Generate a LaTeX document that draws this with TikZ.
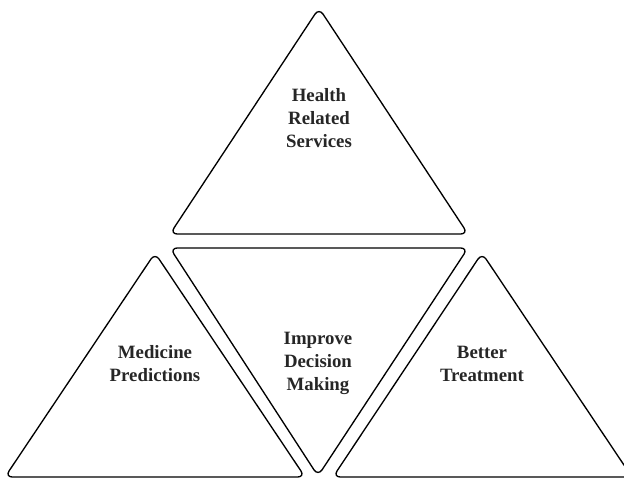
\documentclass[tikz,border=0pt]{standalone}
\usepackage{fontspec}
\setmainfont{Liberation Serif}
\begin{document}
\begin{tikzpicture}[x=0.75pt,y=-0.75pt,
  tri/.style={draw=black,line width=1pt,rounded corners=5.5pt,line join=round},
  lbl/.style={align=center,font=\fontsize{14.1}{17.3}\selectfont\bfseries,text=black!85,inner sep=0pt}]
\useasboundingbox (0,0) rectangle (624,479);
% top triangle
\draw[tri] (244.5,234) -- (170,234) -- (319,8) -- (468,234) -- cycle;
% inverted middle triangle
\draw[tri] (319,248) -- (468,248) -- (318,476) -- (170,248) -- cycle;
% bottom left triangle
\draw[tri] (155,477) -- (5,477) -- (155,253) -- (305,477) -- cycle;
% bottom right triangle
\draw[tri] (482,477) -- (333,477) -- (482,253) -- (632,477) -- cycle;
\node[lbl] (health) at (319,118) {Health\\Related\\Services};
\node[lbl] (improve) at (318,363) {Improve\\Decision\\Making};
\node[lbl] (medicine) at (155,364) {Medicine\\Predictions};
\node[lbl] (better) at (482,364) {Better\\Treatment};
\end{tikzpicture}
\end{document}
